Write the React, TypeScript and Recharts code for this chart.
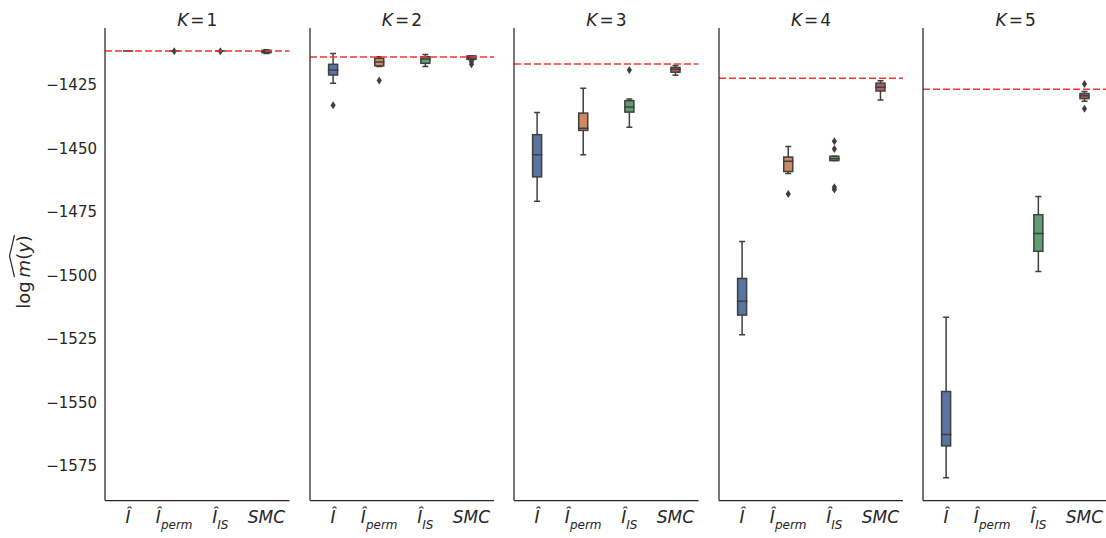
import React from "react";
import { ComposedChart, Bar, XAxis, YAxis, ReferenceLine } from "recharts";

// ---------------- data ----------------
const CATEGORIES = ["I", "Iperm", "IIS", "SMC"];
const PANEL_K = [1, 2, 3, 4, 5];
// dashed red reference value per panel
const REFERENCE_LOGML = [-1411.7, -1414.0, -1416.8, -1422.4, -1426.7];
const Y_TICKS = [-1425, -1450, -1475, -1500, -1525, -1550, -1575];

// [whiskerLow, q1, median, q3, whiskerHigh] per category (null = no box)
const BOX_K1 = [
  [-1411.7, -1411.7, -1411.7, -1411.7, -1411.7],
  [-1411.7, -1411.7, -1411.7, -1411.7, -1411.7],
  [-1411.7, -1411.7, -1411.7, -1411.7, -1411.7],
  [-1412.6, -1412.3, -1411.9, -1411.4, -1411.2],
];
const OUTLIERS_K1 = [[], [-1411.8], [-1411.8], []];

const BOX_K2 = [
  [-1424.3, -1421.1, -1419.1, -1416.9, -1412.6],
  [-1417.8, -1417.5, -1416.0, -1414.5, -1413.9],
  [-1417.8, -1416.5, -1414.8, -1413.9, -1413.0],
  [-1415.2, -1414.9, -1414.3, -1413.6, -1413.6],
];
const OUTLIERS_K2 = [[-1433.0], [-1423.3], [], [-1415.9, -1416.9]];

const BOX_K3 = [
  [-1470.8, -1461.2, -1452.5, -1444.6, -1435.9],
  [-1452.5, -1442.9, -1442.1, -1436.1, -1426.3],
  [-1441.7, -1435.7, -1433.7, -1431.2, -1430.5],
  [-1421.2, -1420.0, -1418.8, -1418.1, -1417.4],
];
const OUTLIERS_K3 = [[], [], [-1419.1], []];

const BOX_K4 = [
  [-1523.4, -1515.6, -1510.2, -1501.2, -1486.6],
  [-1459.9, -1459.1, -1455.1, -1453.4, -1449.2],
  [-1454.8, -1454.8, -1454.1, -1453.1, -1453.1],
  [-1430.9, -1427.4, -1425.9, -1424.3, -1423.4],
];
const OUTLIERS_K4 = [[], [-1467.9], [-1447.2, -1450.2, -1465.3, -1466.2], []];

const BOX_K5 = [
  [-1579.6, -1567.1, -1562.6, -1545.7, -1516.5],
  null,
  [-1498.5, -1490.5, -1483.5, -1476.1, -1468.9],
  [-1431.4, -1430.4, -1429.3, -1428.4, -1427.6],
];
const OUTLIERS_K5 = [[], [], [], [-1424.6, -1434.4]];

const PANEL_BOXES = [BOX_K1, BOX_K2, BOX_K3, BOX_K4, BOX_K5];
const PANEL_OUTLIERS = [OUTLIERS_K1, OUTLIERS_K2, OUTLIERS_K3, OUTLIERS_K4, OUTLIERS_K5];

// ---------------- style / layout ----------------
const DOMAIN_MIN = -1588.6;
const DOMAIN_MAX = -1402.6;
const BOX_COLORS = ["#5875a4", "#cc8963", "#5f9e6e", "#b55d60"];
const EDGE = "#3f3f3f";
const INK = "#262626";
const FONT = "DejaVu Sans";
const W = 1106;
const H = 538;
const PLOT_TOP = 28;
const PLOT_BOTTOM = 500.5;
const PANEL_LEFT0 = 105;
const PANEL_PITCH = 204.6;
const PANEL_W = 184.5;

type Row = {
  cat: string;
  idx: number;
  stats: number[] | null;
  outliers: number[];
  range: number[] | null;
};

function buildRows(boxes: (number[] | null)[], outliers: number[][]): Row[] {
  return CATEGORIES.map((cat, i) => {
    const b = boxes[i];
    if (!b) return { cat, idx: i, stats: null, outliers: [], range: null };
    const all = [...b, ...outliers[i]];
    const top = Math.max(...all);
    return { cat, idx: i, stats: b, outliers: outliers[i], range: [DOMAIN_MIN, top] };
  });
}

const BoxShape = (props: any) => {
  const { x, y, width, height } = props;
  const p: Row = props.payload ?? props;
  if (!p || !p.stats || !p.range || height == null || isNaN(height)) return <g />;
  const top = p.range[1];
  const span = top - DOMAIN_MIN;
  const py = (v: number) => y + height - ((v - DOMAIN_MIN) / span) * height;
  const cx = x + width / 2;
  const [wLo, q1, med, q3, wHi] = p.stats;
  const bw = 9;
  const cap = 3;
  const yQ1 = py(q1);
  const yQ3 = py(q3);
  return (
    <g>
      <line x1={cx} x2={cx} y1={py(wLo)} y2={yQ1} stroke={EDGE} strokeWidth={1.5} />
      <line x1={cx} x2={cx} y1={py(wHi)} y2={yQ3} stroke={EDGE} strokeWidth={1.5} />
      <line x1={cx - cap} x2={cx + cap} y1={py(wLo)} y2={py(wLo)} stroke={EDGE} strokeWidth={1.5} />
      <line x1={cx - cap} x2={cx + cap} y1={py(wHi)} y2={py(wHi)} stroke={EDGE} strokeWidth={1.5} />
      <rect
        x={cx - bw / 2}
        y={yQ3}
        width={bw}
        height={Math.max(0, yQ1 - yQ3)}
        fill={BOX_COLORS[p.idx]}
        stroke={EDGE}
        strokeWidth={1.5}
      />
      <line x1={cx - bw / 2 - 0.75} x2={cx + bw / 2 + 0.75} y1={py(med)} y2={py(med)} stroke={EDGE} strokeWidth={1.5} />
      {p.outliers.map((o, k) => {
        const oy = py(o);
        return (
          <path
            key={k}
            d={`M${cx},${oy - 4} L${cx + 2.6},${oy} L${cx},${oy + 4} L${cx - 2.6},${oy} Z`}
            fill={EDGE}
          />
        );
      })}
    </g>
  );
};

const XTick = (props: any) => {
  const { x, payload } = props;
  const v = payload.value;
  const base = 523;
  const common = { x, y: base, textAnchor: "middle" as const, fontFamily: FONT, fontSize: 17, fill: INK };
  if (v === "I") {
    return <text {...common} fontStyle="italic">Î</text>;
  }
  if (v === "Iperm" || v === "IIS") {
    return (
      <text {...common}>
        <tspan fontStyle="italic">Î</tspan>
        <tspan fontStyle="italic" fontSize={12} dy={6}>{v === "Iperm" ? "perm" : "IS"}</tspan>
      </text>
    );
  }
  return <text {...common} fontStyle="italic">{v}</text>;
};

const fmtY = (v: number) => (v < 0 ? "\u2212" + Math.abs(v) : String(v));

function Panel({ i }: { i: number }) {
  const first = i === 0;
  const yW = first ? PANEL_LEFT0 : 10;
  const plotLeft = PANEL_LEFT0 + i * PANEL_PITCH;
  const rows = buildRows(PANEL_BOXES[i], PANEL_OUTLIERS[i]);
  return (
    <div style={{ position: "absolute", left: plotLeft - yW, top: 0 }}>
      <ComposedChart
        width={yW + PANEL_W}
        height={H}
        data={rows}
        margin={{ top: PLOT_TOP, right: 0, bottom: 0, left: 0 }}
      >
        <XAxis
          dataKey="cat"
          type="category"
          height={H - PLOT_BOTTOM}
          interval={0}
          tickLine={false}
          axisLine={{ stroke: INK, strokeWidth: 1.25 }}
          tick={<XTick />}
        />
        <YAxis
          type="number"
          domain={[DOMAIN_MIN, DOMAIN_MAX]}
          allowDataOverflow
          ticks={Y_TICKS}
          width={yW}
          tickLine={false}
          axisLine={{ stroke: INK, strokeWidth: 1.25 }}
          tick={first ? { fill: INK, fontSize: 15, fontFamily: FONT } : false}
          tickFormatter={fmtY}
        />
        <ReferenceLine
          y={REFERENCE_LOGML[i]}
          stroke="#f0392e"
          strokeWidth={1.5}
          strokeDasharray="7 3"
        />
        <Bar dataKey="range" isAnimationActive={false} shape={<BoxShape />} />
      </ComposedChart>
    </div>
  );
}

export default function App() {
  return (
    <div
      style={{
        position: "absolute",
        left: 0,
        top: 0,
        width: W,
        height: H,
        overflow: "hidden",
        background: "#fff",
      }}
    >
      {PANEL_K.map((k, i) => (
        <Panel key={k} i={i} />
      ))}
      <svg
        width={W}
        height={H}
        style={{ position: "absolute", left: 0, top: 0, pointerEvents: "none" }}
      >
        {PANEL_K.map((k, i) => (
          <text
            key={k}
            x={PANEL_LEFT0 + i * PANEL_PITCH + PANEL_W / 2}
            y={26}
            textAnchor="middle"
            fontFamily={FONT}
            fontSize={17}
            fill={INK}
          >
            <tspan fontStyle="italic">K</tspan>
            <tspan dx={2}>=</tspan>
            <tspan dx={2}>{k}</tspan>
          </text>
        ))}
        <g transform="translate(30,272) rotate(-90)">
          <text x={0} y={0} textAnchor="middle" fontFamily={FONT} fontSize={18} fill={INK}>
            log
            <tspan dx={4} fontStyle="italic">m</tspan>
            <tspan>(</tspan>
            <tspan fontStyle="italic">y</tspan>
            <tspan>)</tspan>
          </text>
          <path d="M -5 -15.5 L 16 -20.5 L 37 -15.5" stroke={INK} strokeWidth={1.2} fill="none" />
        </g>
      </svg>
    </div>
  );
}
